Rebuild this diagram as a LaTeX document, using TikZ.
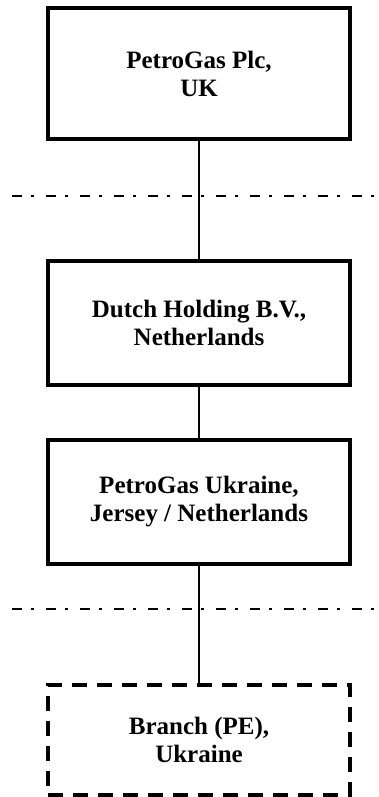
\documentclass[tikz,border=0pt]{standalone}
\usepackage{fontspec}
\setmainfont{Liberation Serif}
\begin{document}
\begin{tikzpicture}[x=1pt,y=-1pt,
    entity/.style={draw,line width=3.2pt,minimum width=302pt,align=center,
      font=\fontsize{25}{28}\selectfont\bfseries},
    branchbox/.style={entity,dash pattern=on 15pt off 10pt,line width=3.6pt},
    divider/.style={line width=2.8pt,dash pattern=on 10pt off 9pt on 3pt off 12pt}]
  \useasboundingbox (0,0) rectangle (378,797);
  \node[entity,minimum height=131pt] (UK) at (199,73.5) {PetroGas Plc,\\UK};
  \node[entity,minimum height=124pt] (NL) at (199,323) {Dutch Holding B.V.,\\Netherlands};
  \node[entity,minimum height=124pt] (JE) at (199,502) {PetroGas Ukraine,\\Jersey / Netherlands};
  \node[branchbox,minimum height=110pt] (UA) at (199,740) {Branch (PE),\\Ukraine};
  \draw[line width=2.8pt] (UK) -- (NL);
  \draw[line width=2.8pt] (NL) -- (JE);
  \draw[line width=2.8pt] (JE) -- (UA);
  % borders
  \draw[divider] (12,196) -- (378,196);
  \draw[divider] (12,609) -- (378,609);
\end{tikzpicture}
\end{document}
